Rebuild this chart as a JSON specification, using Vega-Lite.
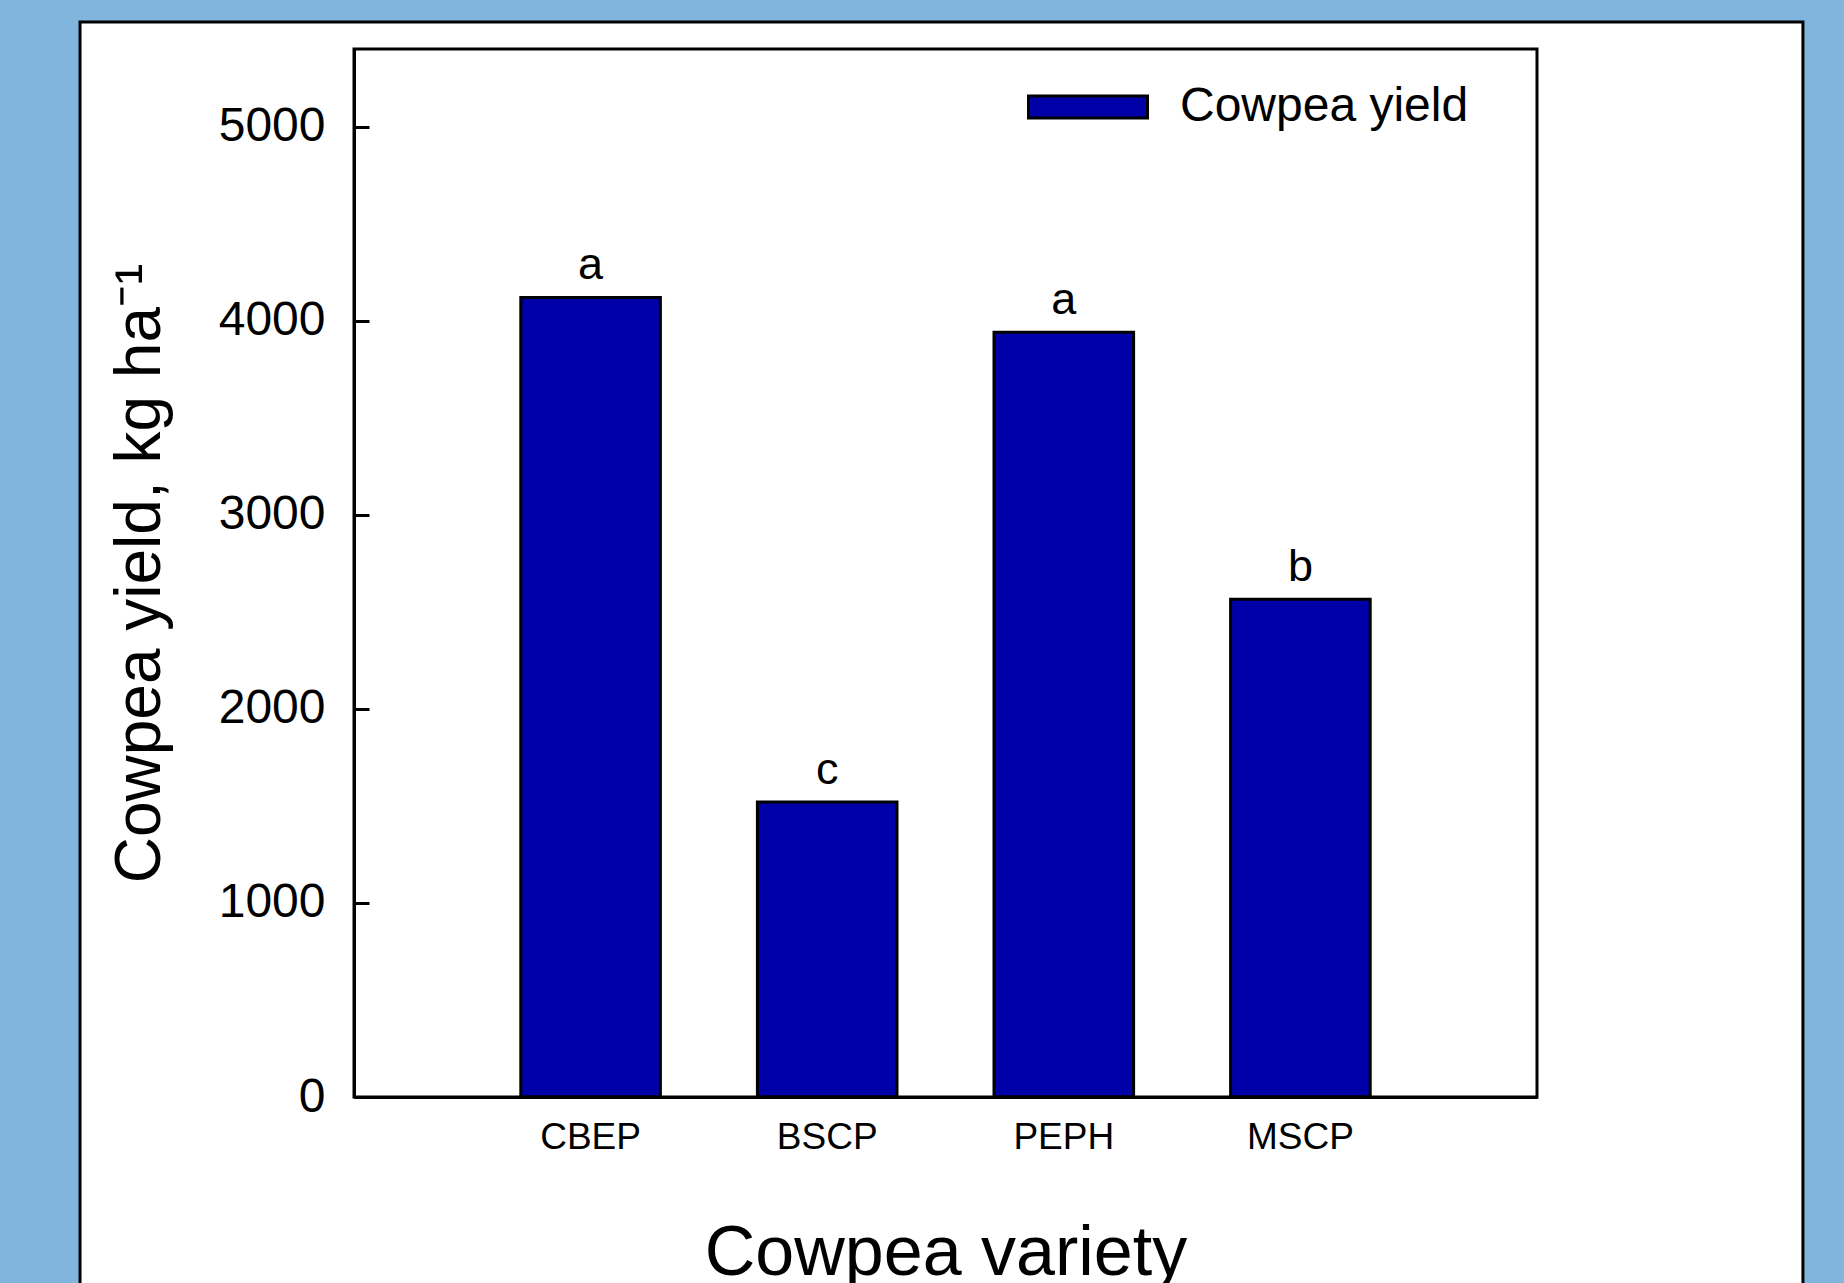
{
  "$schema": "https://vega.github.io/schema/vega-lite/v6.json",
  "autosize": {"type": "none"},
  "width": 1183,
  "height": 1048,
  "padding": {"left": 354, "top": 49, "right": 307, "bottom": 186},
  "background": "#80B6DE",
  "config": {
    "font": "Liberation Sans",
    "view": {"stroke": null},
    "axis": {"labelFont": "Liberation Sans", "titleFont": "Liberation Sans", "labelColor": "black", "titleColor": "black"}
  },
  "data": {"values": [
    {"variety": "CBEP", "yield": 4120, "letter": "a"},
    {"variety": "BSCP", "yield": 1520, "letter": "c"},
    {"variety": "PEPH", "yield": 3940, "letter": "a"},
    {"variety": "MSCP", "yield": 2565, "letter": "b"}
  ]},
  "resolve": {"scale": {"x": "independent", "y": "independent"}},
  "layer": [
    {
      "data": {"values": [{}]},
      "mark": {"type": "rect", "fill": "white", "stroke": "black", "strokeWidth": 3, "clip": false},
      "encoding": {
        "x": {"datum": -1.158, "type": "quantitative", "scale": {"domain": [0, 5], "nice": false, "zero": false}, "axis": null},
        "x2": {"datum": 6.124},
        "y": {"datum": -1300, "type": "quantitative", "scale": {"domain": [0, 5400], "nice": false, "zero": false}, "axis": null},
        "y2": {"datum": 5539}
      }
    },
    {
      "layer": [
        {
          "mark": {"type": "bar", "fill": "#0000A8", "stroke": "black", "strokeWidth": 3},
          "encoding": {
            "x": {
              "field": "variety", "type": "nominal", "sort": null,
              "scale": {"paddingInner": 0.41, "paddingOuter": 0.705},
              "axis": {
                "title": "Cowpea variety", "labelAngle": 0, "labelFontSize": 37, "labelPadding": 22,
                "ticks": false, "domain": true, "domainColor": "black", "domainWidth": 3,
                "titleFontSize": 70, "titleFontWeight": "normal", "titleBaseline": "alphabetic", "titleY": 177,
                "zindex": 1
              }
            },
            "y": {
              "field": "yield", "type": "quantitative",
              "scale": {"domain": [0, 5400], "nice": false},
              "axis": {
                "title": "Cowpea yield, kg ha⁻¹", "values": [0, 1000, 2000, 3000, 4000, 5000], "format": "d",
                "grid": false, "tickSize": -15, "tickWidth": 3, "tickColor": "black",
                "domainColor": "black", "domainWidth": 3,
                "labelFontSize": 48, "labelPadding": 44,
                "titleFontSize": 64, "titleFontWeight": "normal", "titleAngle": -90,
                "titleBaseline": "alphabetic", "titleX": -195,
                "zindex": 1
              }
            },
            "color": {
              "datum": "Cowpea yield",
              "scale": {"range": ["#0000A8"]},
              "legend": {
                "title": null, "orient": "none", "legendX": 673, "legendY": -3, "padding": 0,
                "symbolType": "M-1,-0.185H1V0.185H-1Z", "symbolSize": 14161,
                "symbolStrokeColor": "black", "symbolStrokeWidth": 3, "symbolFillColor": "#0000A8",
                "labelFont": "Liberation Sans", "labelFontSize": 48, "labelColor": "black", "labelOffset": 31,
                "labelLimit": 0
              }
            }
          }
        },
        {
          "mark": {"type": "text", "fontSize": 45, "baseline": "alphabetic", "dy": -18, "color": "black"},
          "encoding": {
            "x": {"field": "variety", "type": "nominal", "sort": null, "scale": {"paddingInner": 0.41, "paddingOuter": 0.705}},
            "y": {"field": "yield", "type": "quantitative", "scale": {"domain": [0, 5400], "nice": false}},
            "text": {"field": "letter"}
          }
        }
      ]
    },
    {
      "data": {"values": [{}]},
      "mark": {"type": "rect", "fill": null, "stroke": "black", "strokeWidth": 3, "clip": false},
      "encoding": {
        "x": {"datum": 0, "type": "quantitative", "scale": {"domain": [0, 5], "nice": false, "zero": false}, "axis": null},
        "x2": {"datum": 5},
        "y": {"datum": 0, "type": "quantitative", "scale": {"domain": [0, 5400], "nice": false, "zero": false}, "axis": null},
        "y2": {"datum": 5400}
      }
    }
  ]
}
